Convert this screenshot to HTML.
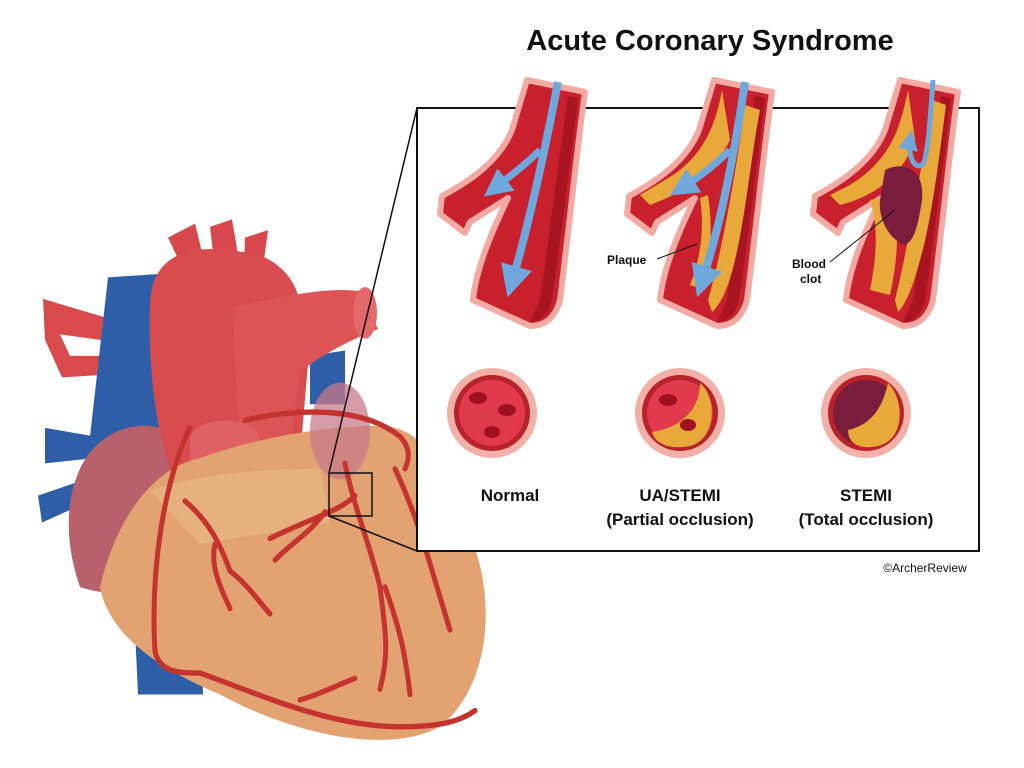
<!DOCTYPE html>
<html><head><meta charset="utf-8"><style>
html,body{margin:0;padding:0;background:#fff;width:1024px;height:768px;overflow:hidden}
svg{display:block}
text{font-family:"Liberation Sans",sans-serif;font-weight:bold;fill:#111}
</style></head><body>
<svg width="1024" height="768" viewBox="0 0 1024 768">
<defs>
<marker id="ah" markerWidth="4" markerHeight="4" refX="2" refY="2" orient="auto" markerUnits="strokeWidth"><path d="M0,0 L4,2 L0,4 Z" fill="#6fa8dc"/></marker>
</defs>
<text x="710" y="50" font-size="29" text-anchor="middle">Acute Coronary Syndrome</text>
<!-- heart -->
<g transform="translate(0,200) scale(1,1.075) translate(0,-200)">
<path d="M133 560 L200 570 L203 660 L138 660 Z" fill="#2f5ea8"/>
<path d="M43 292 L115 312 L115 332 L60 325 L70 345 L115 345 L115 362 L62 365 L45 330 Z" fill="#d94a4d"/>
<path d="M45 412 L95 420 L95 440 L45 445 Z M38 475 L85 460 L90 480 L42 500 Z" fill="#2f5ea8"/>
<path d="M310 345 L345 340 L345 390 L310 390 Z" fill="#2f5ea8"/>
<path d="M108 272 L172 268 L175 440 L120 450 L95 470 L90 420 Z" fill="#2f5ea8"/>
<path d="M80 450 C100 410 150 400 175 420 L190 540 C170 570 110 570 80 560 C65 520 65 480 80 450 Z" fill="#b8606c"/>
<path d="M168 235 L195 222 L205 260 L185 268 Z M210 225 L232 218 L240 262 L215 265 Z M245 235 L268 228 L262 270 L244 268 Z" fill="#d8474b"/>
<path d="M150 300 C150 250 190 240 240 248 C280 250 300 280 300 300 L310 330 L300 440 L230 455 L175 460 C155 420 148 350 150 300 Z" fill="#d84c4f"/>
<path d="M232 300 C280 290 330 280 360 285 L378 320 C350 330 320 345 300 360 L290 430 L240 430 Z" fill="#dc5456"/>
<ellipse cx="365" cy="305" rx="12" ry="24" fill="#e4696a"/>
<path d="M190 420 C200 400 250 400 260 420 L262 450 C240 470 200 465 190 450 Z" fill="#e06063"/>
<path d="M100 560 C115 500 150 450 200 440 C260 420 330 410 380 410 C430 410 460 470 480 540 C495 600 480 660 440 690 C390 715 300 700 220 660 C170 640 110 610 100 560 Z" fill="#e2a272"/>
<path d="M150 470 C200 455 260 450 320 450 L330 500 L200 520 Z" fill="#ecc08c" opacity="0.5"/>
<ellipse cx="340" cy="415" rx="30" ry="45" fill="#c77a88" opacity="0.75"/>
<g stroke="#c5332f" stroke-width="5" fill="none" stroke-linecap="round">
<path d="M245 405 C290 395 360 390 400 420 C410 430 410 440 405 450"/>
<path d="M190 412 C165 460 150 540 155 620 C160 640 180 640 200 640"/>
<path d="M200 640 C260 660 330 690 400 690 C440 690 460 685 475 675"/>
<path d="M345 445 C355 490 370 520 380 560 C385 600 390 620 380 655"/>
<path d="M385 560 C400 600 405 620 410 660 M395 450 C420 500 430 540 450 600"/>
<path d="M355 475 C340 490 300 500 270 515 M325 490 C310 510 290 520 275 535"/>
<path d="M185 480 C210 500 220 520 230 545 C250 560 260 575 270 585 M215 520 C210 540 220 560 230 580"/>
<path d="M300 665 C320 660 340 650 355 645"/>
</g>
</g>
<rect x="329" y="473" width="43" height="43" fill="none" stroke="#111" stroke-width="1.5"/>
<!-- box -->
<rect x="417" y="108" width="562" height="443" fill="#fff" stroke="#111" stroke-width="2"/>
<line x1="329" y1="473" x2="417" y2="108" stroke="#111" stroke-width="1.5"/>
<line x1="329" y1="516" x2="417" y2="551" stroke="#111" stroke-width="1.5"/>
<!-- vessels -->
<g id="v">
<path d="M527 80 L585 92 C578 140 570 220 560 300 C555 318 545 326 530 326 L473 300 C476 270 490 235 508 198 L470 222 L465 233 L440 214 L442 196 C472 180 500 160 512 130 Z" fill="#c8202c" stroke="#f4aaa2" stroke-width="6" stroke-linejoin="round"/>
<path d="M578 98 C572 150 562 230 552 300 C548 315 540 322 530 322 L540 300 C550 230 560 150 568 96 Z" fill="#a8141f"/>
</g>
<use href="#v" transform="translate(187,0)"/>
<use href="#v" transform="translate(373,0)"/>
<path d="M558 82 C545 150 530 220 512 282" stroke="#6fa8dc" stroke-width="8" fill="none" marker-end="url(#ah)"/>
<path d="M540 150 C525 165 508 178 495 188" stroke="#6fa8dc" stroke-width="7" fill="none" marker-end="url(#ah)"/>
<path d="M722 90 C715 130 700 160 665 180 L640 195 L650 205 C690 190 715 170 730 140 Z" fill="#e8a93a"/>
<path d="M760 110 C752 150 745 220 735 260 C728 290 720 305 712 312 L708 300 C720 260 735 180 745 105 Z" fill="#e8a93a"/>
<path d="M700 198 C705 230 700 260 690 285 L705 290 C712 260 712 220 708 195 Z" fill="#e8a93a"/>
<path d="M745 82 C735 150 722 220 702 282" stroke="#6fa8dc" stroke-width="8" fill="none" marker-end="url(#ah)"/>
<path d="M730 150 C715 165 698 178 682 188" stroke="#6fa8dc" stroke-width="7" fill="none" marker-end="url(#ah)"/>
<path d="M908 90 C900 130 890 160 850 185 L830 195 L840 205 C880 195 905 170 915 140 Z" fill="#e8a93a"/>
<path d="M946 105 C940 150 932 220 920 260 C912 290 905 305 898 312 L895 300 C905 260 920 180 932 100 Z" fill="#e8a93a"/>
<path d="M870 200 C880 230 875 265 870 290 L890 295 C898 260 900 220 892 195 Z" fill="#e8a93a"/>
<path d="M885 170 C905 160 925 170 922 200 C918 225 915 240 905 245 C890 240 878 220 880 200 Z" fill="#7a1d3c"/>
<path d="M933 80 C930 120 928 160 922 165 C912 170 908 150 910 140" stroke="#6fa8dc" stroke-width="5" fill="none" marker-end="url(#ah)"/>
<text x="607" y="264" font-size="12">Plaque</text>
<line x1="657" y1="259" x2="697" y2="244" stroke="#111"/>
<text x="792" y="268" font-size="12">Blood</text>
<text x="800" y="283" font-size="12">clot</text>
<line x1="830" y1="262" x2="895" y2="210" stroke="#111"/>
<g>
<circle cx="492" cy="413" r="45" fill="#f2b0a8"/><circle cx="492" cy="413" r="38" fill="#b8222a"/><circle cx="492" cy="413" r="33" fill="#e03a4c"/>
<ellipse cx="478" cy="398" rx="9" ry="6" fill="#a01020"/><ellipse cx="507" cy="410" rx="9" ry="6" fill="#a01020"/><ellipse cx="492" cy="432" rx="8" ry="6" fill="#a01020"/>
<circle cx="680" cy="413" r="45" fill="#f2b0a8"/><circle cx="680" cy="413" r="38" fill="#b8222a"/><circle cx="680" cy="413" r="33" fill="#e03a4c"/>
<path d="M700 383 C718 398 716 440 690 446 C670 450 655 444 652 432 C680 428 700 410 700 383 Z" fill="#e8a93a"/>
<ellipse cx="668" cy="400" rx="9" ry="6" fill="#a01020"/><ellipse cx="688" cy="425" rx="8" ry="6" fill="#a01020"/>
<circle cx="866" cy="413" r="45" fill="#f2b0a8"/><circle cx="866" cy="413" r="38" fill="#b8222a"/><circle cx="866" cy="413" r="33" fill="#7a1d3c"/>
<path d="M888 383 C905 400 905 440 878 446 C860 450 848 444 848 430 C870 425 882 410 888 383 Z" fill="#e8a93a"/>
</g>
<text x="510" y="501" font-size="17" text-anchor="middle">Normal</text>
<text x="680" y="501" font-size="17" text-anchor="middle">UA/STEMI</text>
<text x="680" y="525" font-size="17" text-anchor="middle">(Partial occlusion)</text>
<text x="866" y="501" font-size="17" text-anchor="middle">STEMI</text>
<text x="866" y="525" font-size="17" text-anchor="middle">(Total occlusion)</text>
<text x="925" y="572" font-size="12" text-anchor="middle" style="font-weight:normal">©ArcherReview</text>
</svg>
</body></html>
